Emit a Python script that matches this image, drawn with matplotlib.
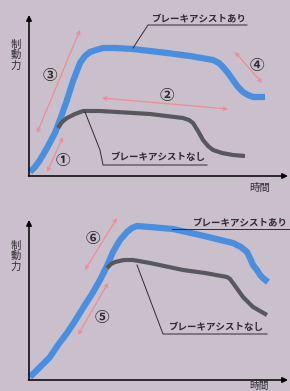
import matplotlib
matplotlib.use('Agg')
import matplotlib.pyplot as plt

plt.rcParams['font.family'] = ['Noto Sans CJK JP', 'DejaVu Sans']

BG = '#c9c0cb'
BLUE = '#4a8ee0'
GRAY = '#58575c'
PINK = '#ee8c98'
INK = '#2e2c30'

# top panel: with / without brake assist (x, y in picture units)
top_with_x = [30, 35, 40, 47, 55, 61, 67, 73, 80, 85, 90, 96, 103, 115, 133, 150, 167, 190, 213, 219, 223, 228, 233, 238, 243, 248, 253, 259, 265]
top_with_y = [172, 167, 160, 148, 133, 117, 100, 81, 63, 56, 52, 50, 48, 48, 49, 51, 53, 56, 60, 63, 67, 73, 80, 87, 92, 95, 97, 97, 97]
top_without_x = [58, 62, 67, 75, 83, 100, 117, 150, 183, 189, 193, 198, 203, 208, 213, 222, 233, 245]
top_without_y = [128, 122, 118, 114, 111, 111, 112, 114, 118, 120, 123, 131, 140, 146, 150, 153, 155, 156]

# bottom panel
bot_with_x = [30, 32, 41, 50, 58, 67, 75, 83, 92, 100, 107, 113, 120, 127, 132, 137, 150, 173, 200, 233, 241, 247, 250, 253, 257, 260, 264, 268]
bot_with_y = [377, 375, 366, 357, 345, 333, 321, 308, 294, 280, 266, 252, 240, 232, 228, 226, 227, 229, 235, 243, 247, 252, 258, 265, 270, 275, 279, 282]
bot_without_x = [107, 111, 115, 124, 133, 150, 183, 205, 227, 230, 233, 238, 243, 248, 253, 260, 267]
bot_without_y = [268, 264, 262, 260, 260, 263, 270, 273, 277, 279, 283, 290, 297, 302, 307, 311, 315]

# pink double arrows (start, end) and circled step numbers
arrows = [((37, 133), (80, 30)), ((47, 172), (63, 137)), ((102, 98), (228, 109)),
          ((235, 52), (262, 83)), ((85, 270), (117, 218)), ((78, 335), (108, 283))]
steps = ['③', '①', '②', '④', '⑥', '⑤']
step_pos = [(50, 75), (63, 160), (167, 95), (257, 65), (93, 238), (102, 317)]

label_with = 'ブレーキアシストあり'
label_without = 'ブレーキアシストなし'
label_y = '制\n動\n力'
label_x = '時間'

fig = plt.figure(figsize=(2.9, 3.91), dpi=100, facecolor=BG)
ax = fig.add_axes([0, 0, 1, 1])
ax.set_facecolor(BG)
ax.set_xlim(0, 290)
ax.set_ylim(391, 0)
ax.axis('off')

# axes with arrow heads
for ox, oy, ty in [(29, 176, 15), (29, 380, 220)]:
    ax.annotate('', xy=(29, ty), xytext=(ox, oy),
                arrowprops=dict(arrowstyle='-|>', color='black', lw=1.1, mutation_scale=8, shrinkA=0, shrinkB=0))
    ax.annotate('', xy=(288, oy), xytext=(ox - 0.5, oy),
                arrowprops=dict(arrowstyle='-|>', color='black', lw=1.1, mutation_scale=8, shrinkA=0, shrinkB=0))

ax.text(16, 55, label_y, fontsize=7.5, color=INK, ha='center', va='center', linespacing=1.05)
ax.text(16, 256, label_y, fontsize=7.5, color=INK, ha='center', va='center', linespacing=1.05)
ax.text(260, 188, label_x, fontsize=7.5, color=INK, ha='center', va='center')
ax.text(259, 390.5, label_x, fontsize=7, color=INK, ha='center', va='bottom')

ax.plot(top_with_x, top_with_y, color=BLUE, lw=4.5, solid_capstyle='butt', solid_joinstyle='round')
ax.plot(top_without_x, top_without_y, color=GRAY, lw=3.0, solid_capstyle='butt', solid_joinstyle='round')
ax.plot(bot_with_x, bot_with_y, color=BLUE, lw=4.5, solid_capstyle='butt', solid_joinstyle='round')
ax.plot(bot_without_x, bot_without_y, color=GRAY, lw=3.0, solid_capstyle='butt', solid_joinstyle='round')

for (s, e) in arrows:
    ax.annotate('', xy=e, xytext=s,
                arrowprops=dict(arrowstyle='<->', color=PINK, lw=0.9, mutation_scale=6, shrinkA=0, shrinkB=0))
for t, (x, y) in zip(steps, step_pos):
    ax.text(x, y, t, fontsize=10.5, color=INK, ha='center', va='center', fontweight='bold')

# leader lines and labels
ax.plot([133, 148, 247], [48, 25, 25], color=INK, lw=0.7)
ax.text(199, 19, label_with, fontsize=6.8, color=INK, ha='center', va='center', fontweight='bold')
ax.plot([85, 100, 103, 207], [112, 150, 165, 165], color=INK, lw=0.7)
ax.text(158, 157, label_without, fontsize=6.8, color=INK, ha='center', va='center', fontweight='bold')
ax.plot([172, 290], [229, 229], color=INK, lw=0.7)
ax.text(240, 223, label_with, fontsize=6.8, color=INK, ha='center', va='center', fontweight='bold')
ax.plot([137, 163, 267], [265, 334, 334], color=INK, lw=0.7)
ax.text(216, 327, label_without, fontsize=6.8, color=INK, ha='center', va='center', fontweight='bold')

fig.savefig('out.png', dpi=100, facecolor=BG)
